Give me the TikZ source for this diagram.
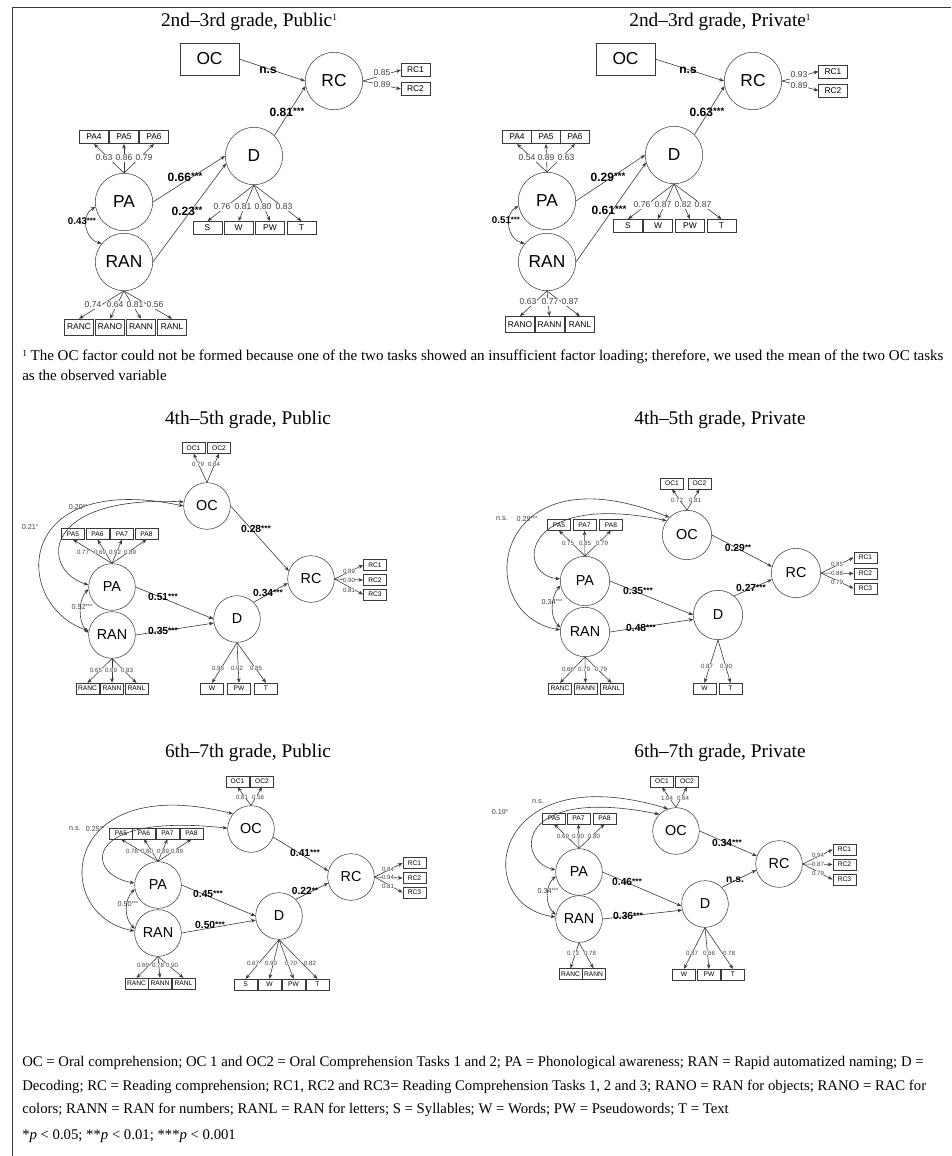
\documentclass[tikz,border=0pt]{standalone}
\usepackage{fontspec}
\usepackage{graphicx}
\setmainfont{Liberation Serif}
\setsansfont{Liberation Sans}
\usetikzlibrary{arrows.meta}
\definecolor{ln}{HTML}{3A3A3A}
\definecolor{lbl}{HTML}{404040}
\newcommand{\sig}[1]{\raisebox{0.1em}{\scalebox{0.8}{#1}}}
\newcommand{\fnm}{\raisebox{0.32em}{\fontsize{7}{7}\selectfont 1}}

\begin{document}
\begin{tikzpicture}[
  x=0.75pt, y=-0.75pt,
  >={Stealth[length=3.6pt,width=2.8pt]},
  latA/.style={draw=ln, circle, minimum size=43pt, inner sep=0pt, font=\sffamily\fontsize{13}{13}\selectfont},
  latB/.style={draw=ln, circle, minimum size=35pt, inner sep=0pt, font=\sffamily\fontsize{10.8}{11}\selectfont},
  obsOC/.style={draw=ln, minimum width=44pt, minimum height=24pt, inner sep=0pt, font=\sffamily\fontsize{13}{13}\selectfont},
  obsA/.style={draw=ln, minimum width=21.5pt, minimum height=10pt, inner sep=0pt, font=\sffamily\fontsize{6.3}{7}\selectfont},
  obsB/.style={draw=ln, minimum width=17.5pt, minimum height=8pt, inner sep=0pt, font=\sffamily\fontsize{5}{5}\selectfont},
  arr/.style={->, ln, line width=0.45pt},
  cor/.style={<->, ln, line width=0.45pt},
  coefA/.style={font=\sffamily\bfseries\fontsize{9}{9}\selectfont, inner sep=0.5pt},
  coefB/.style={font=\sffamily\bfseries\fontsize{7.7}{8}\selectfont, inner sep=0.5pt},
  corA/.style={font=\sffamily\bfseries\fontsize{7.3}{8}\selectfont, inner sep=0.5pt},
  corB/.style={font=\sffamily\fontsize{5.4}{6}\selectfont, text=lbl, inner sep=0.3pt},
  ldA/.style={font=\sffamily\fontsize{6.4}{7}\selectfont, text=lbl, fill=white, inner sep=0.4pt},
  ldB/.style={font=\sffamily\fontsize{4.6}{5}\selectfont, text=lbl, fill=white, inner sep=0.2pt},
  ttl/.style={font=\fontsize{14.5}{15}\selectfont},
  note/.style={anchor=west, inner sep=0pt, font=\fontsize{11.25}{12}\selectfont},
  legd/.style={note, font=\fontsize{11.05}{12}\selectfont},
]
\useasboundingbox (0,0) rectangle (951,1156);
\draw[ln, line width=0.5pt] (12,1156) -- (12,7) -- (951,7);

% 2nd-3rd grade, public
\node[ttl] (aT) at (249,22) {2nd–3rd grade, Public\fnm};
\node[obsOC] (aOC) at (209.5,59) {OC};
\node[latA] (aRC) at (334,81) {RC};
\node[latA] (aD) at (254,156) {D};
\node[latA] (aPA) at (124,202) {PA};
\node[latA] (aRAN) at (124,262) {RAN};
\node[obsA] (aRC1) at (415.5,70) {RC1};
\node[obsA] (aRC2) at (415.5,89) {RC2};
\node[obsA] (aPA4) at (94,137) {PA4};
\node[obsA] (aPA5) at (124,137) {PA5};
\node[obsA] (aPA6) at (154,137) {PA6};
\node[obsA] (aS) at (207.5,228) {S};
\node[obsA] (aW) at (238.5,228) {W};
\node[obsA] (aPW) at (270,228) {PW};
\node[obsA] (aTx) at (301.5,228) {T};
\node[obsA, minimum height=12pt] (aRANC) at (79,327) {RANC};
\node[obsA, minimum height=12pt] (aRANO) at (110,327) {RANO};
\node[obsA, minimum height=12pt] (aRANN) at (141,327) {RANN};
\node[obsA, minimum height=12pt] (aRANL) at (172,327) {RANL};

\draw[arr] (aOC.east) -- (aRC.west);
\draw[arr] (aD.45) -- (aRC.190);
\draw[arr] (aPA.east) -- (aD.west);
\draw[arr] (aRAN.east) -- (aD.195);
\draw[cor] (aPA.190) .. controls (80,215) and (85,240) .. (aRAN.140);
\draw[arr] (aRC.east) -- (aRC1.west);
\draw[arr] (aRC.east) -- (aRC2.west);
\draw[arr] (aPA.north) -- (aPA4.south);
\draw[arr] (aPA.north) -- (aPA5.south);
\draw[arr] (aPA.north) -- (aPA6.south);
\draw[arr] (aD.south) -- (aS.north);
\draw[arr] (aD.south) -- (aW.north);
\draw[arr] (aD.south) -- (aPW.north);
\draw[arr] (aD.south) -- (aTx.north);
\draw[arr] (aRAN.south) -- (aRANC.north);
\draw[arr] (aRAN.south) -- (aRANO.north);
\draw[arr] (aRAN.south) -- (aRANN.north);
\draw[arr] (aRAN.south) -- (aRANL.north);

\node[ldA] (aL1) at (382,73) {0.85};
\node[ldA] (aL2) at (382,85) {0.89};
\node[ldA] (aL3) at (104,158) {0.63};
\node[ldA] (aL4) at (124,158) {0.86};
\node[ldA] (aL5) at (144,158) {0.79};
\node[ldA] (aL6) at (222,207) {0.76};
\node[ldA] (aL7) at (243,207) {0.81};
\node[ldA] (aL8) at (263,207) {0.80};
\node[ldA] (aL9) at (284,207) {0.83};
\node[ldA] (aL10) at (93,305) {0.74};
\node[ldA] (aL11) at (115,305) {0.64};
\node[ldA] (aL12) at (135,305) {0.81};
\node[ldA] (aL13) at (155,305) {0.56};
\node[coefA] (aC1) at (268,70) {n.s};
\node[coefA] (aC2) at (287,112) {0.81\sig{***}};
\node[coefA] (aC3) at (185,177) {0.66\sig{***}};
\node[coefA] (aC4) at (187,211) {0.23\sig{**}};
\node[corA] (aC5) at (82,221) {0.43\sig{***}};

% 2nd-3rd grade, private
\node[ttl] (bT) at (720,22) {2nd–3rd grade, Private\fnm};
\node[obsOC] (bOC) at (625.5,59) {OC};
\node[latA] (bRC) at (753,81) {RC};
\node[latA] (bD) at (674,155) {D};
\node[latA] (bPA) at (547,201) {PA};
\node[latA] (bRAN) at (547,262) {RAN};
\node[obsA] (bRC1) at (833,71.5) {RC1};
\node[obsA] (bRC2) at (833,90.5) {RC2};
\node[obsA] (bPA4) at (517,137) {PA4};
\node[obsA] (bPA5) at (546,137) {PA5};
\node[obsA] (bPA6) at (575,137) {PA6};
\node[obsA] (bS) at (628,226) {S};
\node[obsA] (bW) at (658,226) {W};
\node[obsA] (bPW) at (690,226) {PW};
\node[obsA] (bTx) at (721.5,226) {T};
\node[obsA, minimum height=12pt] (bRANO) at (520,324.5) {RANO};
\node[obsA, minimum height=12pt] (bRANN) at (549.5,324.5) {RANN};
\node[obsA, minimum height=12pt] (bRANL) at (580,324.5) {RANL};

\draw[arr] (bOC.east) -- (bRC.west);
\draw[arr] (bD.45) -- (bRC.190);
\draw[arr] (bPA.east) -- (bD.west);
\draw[arr] (bRAN.east) -- (bD.195);
\draw[cor] (bPA.190) .. controls (503,215) and (508,240) .. (bRAN.140);
\draw[arr] (bRC.east) -- (bRC1.west);
\draw[arr] (bRC.east) -- (bRC2.west);
\draw[arr] (bPA.north) -- (bPA4.south);
\draw[arr] (bPA.north) -- (bPA5.south);
\draw[arr] (bPA.north) -- (bPA6.south);
\draw[arr] (bD.south) -- (bS.north);
\draw[arr] (bD.south) -- (bW.north);
\draw[arr] (bD.south) -- (bPW.north);
\draw[arr] (bD.south) -- (bTx.north);
\draw[arr] (bRAN.south) -- (bRANO.north);
\draw[arr] (bRAN.south) -- (bRANN.north);
\draw[arr] (bRAN.south) -- (bRANL.north);

\node[ldA] (bL1) at (799,75) {0.93};
\node[ldA] (bL2) at (799,86) {0.89};
\node[ldA] (bL3) at (527,158) {0.54};
\node[ldA] (bL4) at (546,158) {0.89};
\node[ldA] (bL5) at (566,158) {0.63};
\node[ldA] (bL6) at (642,205) {0.76};
\node[ldA] (bL7) at (663,205) {0.87};
\node[ldA] (bL8) at (683,205) {0.82};
\node[ldA] (bL9) at (703,205) {0.87};
\node[ldA] (bL10) at (528,302) {0.63};
\node[ldA] (bL11) at (550,302) {0.77};
\node[ldA] (bL12) at (570,302) {0.87};
\node[coefA] (bC1) at (688,70) {n.s};
\node[coefA] (bC2) at (707,112) {0.63\sig{***}};
\node[coefA] (bC3) at (608,177) {0.29\sig{***}};
\node[coefA] (bC4) at (609,210) {0.61\sig{***}};
\node[corA] (bC5) at (506,220) {0.51\sig{***}};

% footnote
\node[note] (fnA) at (22,357) {\fnm{} The OC factor could not be formed because one of the two tasks showed an insufficient factor loading; therefore, we used the mean of the two OC tasks};
\node[note] (fnB) at (22,375) {as the observed variable};

% 4th-5th grade, public
\node[ttl] (cT) at (248,420) {4th–5th grade, Public};
\node[obsB] (cOC1) at (193.5,448) {OC1};
\node[obsB] (cOC2) at (219,448) {OC2};
\node[latB] (cOC) at (207,506) {OC};
\node[latB] (cPA) at (112,587) {PA};
\node[latB] (cRAN) at (112,635) {RAN};
\node[latB] (cD) at (237,619) {D};
\node[latB] (cRC) at (311,579) {RC};
\node[obsB] (cRC1) at (375,565) {RC1};
\node[obsB] (cRC2) at (375,580) {RC2};
\node[obsB] (cRC3) at (375,594.5) {RC3};
\node[obsB] (cPA5) at (73,534) {PA5};
\node[obsB] (cPA6) at (97.5,534) {PA6};
\node[obsB] (cPA7) at (122,534) {PA7};
\node[obsB] (cPA8) at (146.5,534) {PA8};
\node[obsB] (cRANC) at (87.5,688.5) {RANC};
\node[obsB] (cRANN) at (112,688.5) {RANN};
\node[obsB] (cRANL) at (136.5,688.5) {RANL};
\node[obsB] (cW) at (212,688.5) {W};
\node[obsB] (cPW) at (239,688.5) {PW};
\node[obsB] (cTx) at (266,688.5) {T};

\draw[arr] (cOC.east) -- (cRC.160);
\draw[arr] (cD.45) -- (cRC.190);
\draw[arr] (cPA.east) -- (cD.180);
\draw[arr] (cRAN.east) -- (cD.190);
\draw[cor] (cPA.185) .. controls (78,600) and (78,622) .. (cRAN.175);
\draw[cor] (cRAN.170) .. controls (12,605) and (12,470) .. (cOC.180);
\draw[cor] (cPA.175) .. controls (40,570) and (40,495) .. (cOC.170);
\draw[arr] (cOC.north) -- (cOC1.south);
\draw[arr] (cOC.north) -- (cOC2.south);
\draw[arr] (cRC.east) -- (cRC1.west);
\draw[arr] (cRC.east) -- (cRC2.west);
\draw[arr] (cRC.east) -- (cRC3.west);
\draw[arr] (cPA.north) -- (cPA5.south);
\draw[arr] (cPA.north) -- (cPA6.south);
\draw[arr] (cPA.north) -- (cPA7.south);
\draw[arr] (cPA.north) -- (cPA8.south);
\draw[arr] (cRAN.south) -- (cRANC.north);
\draw[arr] (cRAN.south) -- (cRANN.north);
\draw[arr] (cRAN.south) -- (cRANL.north);
\draw[arr] (cD.south) -- (cW.north);
\draw[arr] (cD.south) -- (cPW.north);
\draw[arr] (cD.south) -- (cTx.north);

\node[ldB] (cL1) at (198,464) {0.79};
\node[ldB] (cL2) at (214,464) {0.64};
\node[ldB] (cL3) at (349,571) {0.89};
\node[ldB] (cL4) at (349,580) {0.90};
\node[ldB] (cL5) at (349,590) {0.81};
\node[ldB] (cL6) at (83,552) {0.77};
\node[ldB] (cL7) at (100,552) {0.69};
\node[ldB] (cL8) at (115,552) {0.92};
\node[ldB] (cL9) at (130,552) {0.89};
\node[ldB] (cL10) at (96,670) {0.65};
\node[ldB] (cL11) at (111,670) {0.69};
\node[ldB] (cL12) at (127,670) {0.83};
\node[ldB] (cL13) at (218,668) {0.96};
\node[ldB] (cL14) at (237,668) {0.92};
\node[ldB] (cL15) at (256,668) {0.85};
\node[coefB] (cC1) at (256,529) {0.28\sig{***}};
\node[coefB] (cC2) at (268,593) {0.34\sig{***}};
\node[coefB] (cC3) at (163,597) {0.51\sig{***}};
\node[coefB] (cC4) at (163,631) {0.35\sig{***}};
\node[corB] (cC5) at (82,607) {0.52\sig{***}};
\node[corB] (cC6) at (78,507) {0.20\sig{**}};
\node[corB] (cC7) at (30,527) {0.21\sig{*}};

% 4th-5th grade, private
\node[ttl] (dT) at (720,420) {4th–5th grade, Private};
\node[obsB] (dOC1) at (672,483.5) {OC1};
\node[obsB] (dOC2) at (699.5,483.5) {OC2};
\node[latB, minimum size=37pt] (dOC) at (687,535) {OC};
\node[latB, minimum size=37pt] (dPA) at (585,581) {PA};
\node[latB, minimum size=37pt] (dRAN) at (585,632) {RAN};
\node[latB, minimum size=37pt] (dD) at (718,615) {D};
\node[latB, minimum size=37pt] (dRC) at (796,573) {RC};
\node[obsB] (dRC1) at (865.5,557.5) {RC1};
\node[obsB] (dRC2) at (865.5,573.5) {RC2};
\node[obsB] (dRC3) at (865.5,588.5) {RC3};
\node[obsB] (dPA5) at (559,525) {PA5};
\node[obsB] (dPA7) at (584.5,525) {PA7};
\node[obsB] (dPA8) at (611,525) {PA8};
\node[obsB] (dRANC) at (560,688.5) {RANC};
\node[obsB] (dRANN) at (585.5,688.5) {RANN};
\node[obsB] (dRANL) at (611.5,688.5) {RANL};
\node[obsB] (dW) at (704.5,688.5) {W};
\node[obsB] (dTx) at (730.5,688.5) {T};

\draw[arr] (dOC.east) -- (dRC.165);
\draw[arr] (dD.50) -- (dRC.195);
\draw[arr] (dPA.east) -- (dD.180);
\draw[arr] (dRAN.east) -- (dD.190);
\draw[cor] (dPA.190) .. controls (550,598) and (550,618) .. (dRAN.170);
\draw[cor] (dRAN.175) .. controls (470,615) and (490,445) .. (dOC.135);
\draw[cor] (dPA.175) .. controls (515,575) and (520,490) .. (dOC.145);
\draw[arr] (dOC.north) -- (dOC1.south);
\draw[arr] (dOC.north) -- (dOC2.south);
\draw[arr] (dRC.east) -- (dRC1.west);
\draw[arr] (dRC.east) -- (dRC2.west);
\draw[arr] (dRC.east) -- (dRC3.west);
\draw[arr] (dPA.north) -- (dPA5.south);
\draw[arr] (dPA.north) -- (dPA7.south);
\draw[arr] (dPA.north) -- (dPA8.south);
\draw[arr] (dRAN.south) -- (dRANC.north);
\draw[arr] (dRAN.south) -- (dRANN.north);
\draw[arr] (dRAN.south) -- (dRANL.north);
\draw[arr] (dD.south) -- (dW.north);
\draw[arr] (dD.south) -- (dTx.north);

\node[ldB] (dL1) at (677,500) {0.72};
\node[ldB] (dL2) at (695,500) {0.81};
\node[ldB] (dL3) at (837,564) {0.85};
\node[ldB] (dL4) at (837,573) {0.88};
\node[ldB] (dL5) at (837,582) {0.79};
\node[ldB] (dL6) at (568,543) {0.75};
\node[ldB] (dL7) at (585,543) {0.85};
\node[ldB] (dL8) at (602,543) {0.79};
\node[ldB] (dL9) at (568,669) {0.66};
\node[ldB] (dL10) at (584,669) {0.79};
\node[ldB] (dL11) at (601,669) {0.79};
\node[ldB] (dL12) at (707,666) {0.87};
\node[ldB] (dL13) at (726,666) {0.90};
\node[coefB] (dC1) at (738,548) {0.29\sig{**}};
\node[coefB] (dC2) at (751,588) {0.27\sig{***}};
\node[coefB] (dC3) at (638,591) {0.35\sig{***}};
\node[coefB] (dC4) at (641,628) {0.48\sig{***}};
\node[corB] (dC5) at (552,602) {0.34\sig{***}};
\node[corB] (dC6) at (502,519) {n.s.};
\node[corB] (dC7) at (527,519) {0.29\sig{***}};

% 6th-7th grade, public
\node[ttl] (eT) at (248,753) {6th–7th grade, Public};
\node[obsB] (eOC1) at (237.5,781.5) {OC1};
\node[obsB] (eOC2) at (262,781.5) {OC2};
\node[latB] (eOC) at (251,829) {OC};
\node[latB] (ePA) at (158,885) {PA};
\node[latB] (eRAN) at (158,933) {RAN};
\node[latB] (eD) at (279,916) {D};
\node[latB] (eRC) at (351,877) {RC};
\node[obsB] (eRC1) at (414.5,863) {RC1};
\node[obsB] (eRC2) at (414.5,878) {RC2};
\node[obsB] (eRC3) at (414.5,892.5) {RC3};
\node[obsB] (ePA5) at (121,833.5) {PA5};
\node[obsB] (ePA6) at (144,833.5) {PA6};
\node[obsB] (ePA7) at (167.5,833.5) {PA7};
\node[obsB] (ePA8) at (191.5,833.5) {PA8};
\node[obsB] (eRANC) at (136.5,983.5) {RANC};
\node[obsB] (eRANN) at (160,983.5) {RANN};
\node[obsB] (eRANL) at (183.5,983.5) {RANL};
\node[obsB] (eS) at (245.5,984.5) {S};
\node[obsB] (eW) at (269.5,984.5) {W};
\node[obsB] (ePW) at (293.5,984.5) {PW};
\node[obsB] (eTx) at (317.5,984.5) {T};

\draw[arr] (eOC.340) -- (eRC.165);
\draw[arr] (eD.45) -- (eRC.195);
\draw[arr] (ePA.east) -- (eD.180);
\draw[arr] (eRAN.east) -- (eD.190);
\draw[cor] (ePA.190) .. controls (124,900) and (124,918) .. (eRAN.170);
\draw[cor] (eRAN.175) .. controls (50,915) and (60,770) .. (eOC.140);
\draw[cor] (ePA.175) .. controls (85,875) and (80,812) .. (eOC.178);
\draw[arr] (eOC.north) -- (eOC1.south);
\draw[arr] (eOC.north) -- (eOC2.south);
\draw[arr] (eRC.east) -- (eRC1.west);
\draw[arr] (eRC.east) -- (eRC2.west);
\draw[arr] (eRC.east) -- (eRC3.west);
\draw[arr] (ePA.north) -- (ePA5.south);
\draw[arr] (ePA.north) -- (ePA6.south);
\draw[arr] (ePA.north) -- (ePA7.south);
\draw[arr] (ePA.north) -- (ePA8.south);
\draw[arr] (eRAN.south) -- (eRANC.north);
\draw[arr] (eRAN.south) -- (eRANN.north);
\draw[arr] (eRAN.south) -- (eRANL.north);
\draw[arr] (eD.south) -- (eS.north);
\draw[arr] (eD.south) -- (eW.north);
\draw[arr] (eD.south) -- (ePW.north);
\draw[arr] (eD.south) -- (eTx.north);

\node[ldB] (eL1) at (242,797) {0.81};
\node[ldB] (eL2) at (258,797) {0.56};
\node[ldB] (eL3) at (388,869) {0.84};
\node[ldB] (eL4) at (388,877) {0.94};
\node[ldB] (eL5) at (388,886) {0.81};
\node[ldB] (eL6) at (132,851) {0.78};
\node[ldB] (eL7) at (147,851) {0.60};
\node[ldB] (eL8) at (163,851) {0.89};
\node[ldB] (eL9) at (177,851) {0.89};
\node[ldB] (eL10) at (143,965) {0.69};
\node[ldB] (eL11) at (158,965) {0.78};
\node[ldB] (eL12) at (172,965) {0.90};
\node[ldB] (eL13) at (253,963) {0.67};
\node[ldB] (eL14) at (271,963) {0.90};
\node[ldB] (eL15) at (291,963) {0.70};
\node[ldB] (eL16) at (310,963) {0.82};
\node[coefB] (eC1) at (305,853) {0.41\sig{***}};
\node[coefB] (eC2) at (305,891) {0.22\sig{**}};
\node[coefB] (eC3) at (208,894) {0.45\sig{***}};
\node[coefB] (eC4) at (210,925) {0.50\sig{***}};
\node[corB] (eC5) at (128,904) {0.50\sig{***}};
\node[corB] (eC6) at (75,829) {n.s.};
\node[corB] (eC7) at (95,829) {0.25\sig{**}};

% 6th-7th grade, private
\node[ttl] (fT) at (720,753) {6th–7th grade, Private};
\node[obsB] (fOC1) at (662,781.5) {OC1};
\node[obsB] (fOC2) at (687,781.5) {OC2};
\node[latB] (fOC) at (676,831) {OC};
\node[latB] (fPA) at (579,872) {PA};
\node[latB] (fRAN) at (579,919) {RAN};
\node[latB] (fD) at (705,904) {D};
\node[latB] (fRC) at (779,864) {RC};
\node[obsB] (fRC1) at (844.5,849.5) {RC1};
\node[obsB] (fRC2) at (844.5,864.5) {RC2};
\node[obsB] (fRC3) at (844.5,879.5) {RC3};
\node[obsB] (fPA5) at (554,818.5) {PA5};
\node[obsB] (fPA7) at (578.5,818.5) {PA7};
\node[obsB] (fPA8) at (604.5,818.5) {PA8};
\node[obsB] (fRANC) at (570.5,974) {RANC};
\node[obsB] (fRANN) at (593.5,974) {RANN};
\node[obsB] (fW) at (684,974.5) {W};
\node[obsB] (fPW) at (709,974.5) {PW};
\node[obsB] (fTx) at (733,974.5) {T};

\draw[arr] (fOC.east) -- (fRC.160);
\draw[arr] (fD.45) -- (fRC.195);
\draw[arr] (fPA.east) -- (fD.185);
\draw[arr] (fRAN.east) -- (fD.195);
\draw[cor] (fPA.190) .. controls (545,886) and (545,905) .. (fRAN.170);
\draw[cor] (fRAN.175) .. controls (470,905) and (490,755) .. (fOC.110);
\draw[cor] (fPA.175) .. controls (515,860) and (515,785) .. (fOC.135);
\draw[arr] (fOC.north) -- (fOC1.south);
\draw[arr] (fOC.north) -- (fOC2.south);
\draw[arr] (fRC.east) -- (fRC1.west);
\draw[arr] (fRC.east) -- (fRC2.west);
\draw[arr] (fRC.east) -- (fRC3.west);
\draw[arr] (fPA.north) -- (fPA5.south);
\draw[arr] (fPA.north) -- (fPA7.south);
\draw[arr] (fPA.north) -- (fPA8.south);
\draw[arr] (fRAN.south) -- (fRANC.north);
\draw[arr] (fRAN.south) -- (fRANN.north);
\draw[arr] (fD.south) -- (fW.north);
\draw[arr] (fD.south) -- (fPW.north);
\draw[arr] (fD.south) -- (fTx.north);

\node[ldB] (fL1) at (667,798) {1.04};
\node[ldB] (fL2) at (683,798) {0.64};
\node[ldB] (fL3) at (818,855) {0.94};
\node[ldB] (fL4) at (818,864) {0.87};
\node[ldB] (fL5) at (818,873) {0.79};
\node[ldB] (fL6) at (563,836) {0.69};
\node[ldB] (fL7) at (578,836) {0.90};
\node[ldB] (fL8) at (594,836) {0.80};
\node[ldB] (fL9) at (573,953) {0.73};
\node[ldB] (fL10) at (590,953) {0.78};
\node[ldB] (fL11) at (692,953) {0.87};
\node[ldB] (fL12) at (709,953) {0.66};
\node[ldB] (fL13) at (729,953) {0.78};
\node[coefB] (fC1) at (727,843) {0.34\sig{***}};
\node[coefB] (fC2) at (735,880) {n.s.};
\node[coefB] (fC3) at (627,882) {0.46\sig{***}};
\node[coefB] (fC4) at (628,916) {0.36\sig{***}};
\node[corB] (fC5) at (548,891) {0.34\sig{***}};
\node[corB] (fC6) at (500,812) {0.19\sig{*}};
\node[corB] (fC7) at (538,802) {n.s.};

% legend
\node[legd] (lgA) at (22,1063) {OC = Oral comprehension; OC 1 and OC2 = Oral Comprehension Tasks 1 and 2; PA = Phonological awareness; RAN = Rapid automatized naming; D =};
\node[legd] (lgB) at (22,1087) {Decoding; RC = Reading comprehension; RC1, RC2 and RC3= Reading Comprehension Tasks 1, 2 and 3; RANO = RAN for objects; RANO = RAC for};
\node[legd] (lgC) at (22,1110) {colors; RANN = RAN for numbers; RANL = RAN for letters; S = Syllables; W = Words; PW = Pseudowords; T = Text};
\node[legd] (lgD) at (22,1136) {*\textit{p} < 0.05; **\textit{p} < 0.01; ***\textit{p} < 0.001};
\end{tikzpicture}
\end{document}
